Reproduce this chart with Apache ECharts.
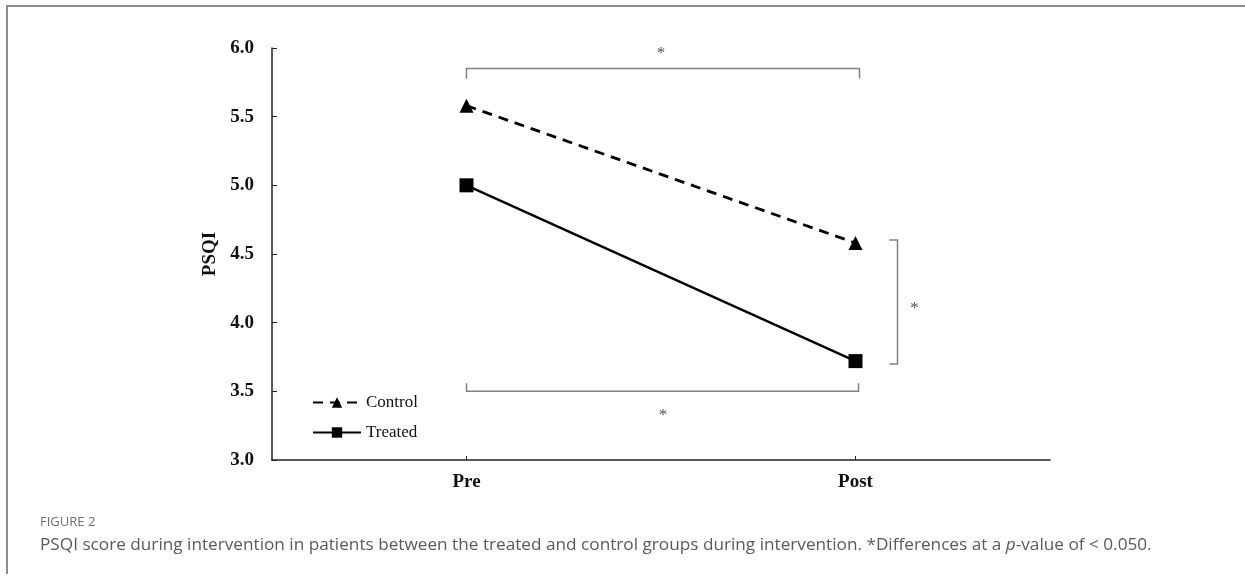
<!DOCTYPE html>
<html>
<head>
<meta charset="utf-8">
<style>
    html, body {margin: 0; padding: 0; background: #fff;}
    #main {width: 1245px; height: 576px;}
</style>
<script src="https://cdn.jsdelivr.net/npm/echarts@6/dist/echarts.min.js"></script>
</head>
<body>
<div id="main"></div>
<script>
// 数据
var categories = ['Pre', 'Post'];
var controlValues = [5.58, 4.58];
var treatedValues = [5.0, 3.72];
var yTicks = {min: 3.0, max: 6.0, interval: 0.5};
// 显著性标注: 上方(Pre-Post 对照组), 下方(Pre-Post 治疗组), 右侧(Post 组间)
var bracketTopY = 5.85;
var bracketBottomY = 3.5;
var bracketRight = [4.58, 3.72];

var serif = '"Liberation Serif", "Times New Roman", serif';
var sans = '"Open Sans", "Noto Sans", sans-serif';
var bracketColor = '#808080';

var myChart = echarts.init(document.querySelector('#main'));
myChart.setOption({
    animation: false,
    backgroundColor: '#fff',
    grid: {left: 272, right: 195, top: 48, bottom: 116},
    legend: {
        orient: 'vertical',
        left: 307,
        top: 389,
        itemWidth: 48,
        itemHeight: 13,
        itemGap: 13,
        textStyle: {fontFamily: serif, fontSize: 17, color: '#111'},
        data: ['Control', 'Treated']
    },
    xAxis: {
        type: 'category',
        data: categories,
        axisLine: {lineStyle: {color: '#222', width: 1.5}},
        axisTick: {show: true, alignWithLabel: true, inside: true, length: 4, lineStyle: {color: '#222'}},
        axisLabel: {fontFamily: serif, fontWeight: 'bold', fontSize: 19, color: '#111', margin: 13}
    },
    yAxis: {
        type: 'value',
        min: yTicks.min,
        max: yTicks.max,
        interval: yTicks.interval,
        name: 'PSQI',
        nameLocation: 'middle',
        nameGap: 50,
        nameTextStyle: {fontFamily: serif, fontWeight: 'bold', fontSize: 19, color: '#111'},
        axisLine: {show: true, lineStyle: {color: '#222', width: 1.5}},
        axisTick: {show: true, inside: true, length: 5, lineStyle: {color: '#222'}},
        splitLine: {show: false},
        axisLabel: {
            fontFamily: serif, fontWeight: 'bold', fontSize: 19, color: '#111', margin: 18,
            formatter: function (v) { return v.toFixed(1); }
        }
    },
    series: [{
        name: 'Control',
        type: 'line',
        data: controlValues,
        symbol: 'triangle',
        symbolSize: 14,
        itemStyle: {color: '#000'},
        lineStyle: {color: '#000', width: 2.8, type: [10, 7]}
    }, {
        name: 'Treated',
        type: 'line',
        data: treatedValues,
        symbol: 'rect',
        symbolSize: 14,
        itemStyle: {color: '#000'},
        lineStyle: {color: '#000', width: 2.3}
    }]
});

// 画显著性括号和说明文字
function drawAnnotations() {
    var pt = function (x, y) { return myChart.convertToPixel({gridIndex: 0}, [x, y]); };
    var g = [];
    var ls = {stroke: bracketColor, lineWidth: 1.5, fill: null};
    var star = function (x, y) {
        return {type: 'text', x: x, y: y, style: {text: '*', fontFamily: serif, fontSize: 17, fill: '#555', align: 'center', verticalAlign: 'middle'}};
    };

    var a = pt(0, bracketTopY), b = pt(1, bracketTopY);
    g.push({type: 'polyline', shape: {points: [[a[0], a[1] + 10], [a[0], a[1]], [b[0] + 4, b[1]], [b[0] + 4, b[1] + 10]]}, style: ls});
    g.push(star((a[0] + b[0]) / 2, a[1] - 15));

    var c = pt(0, bracketBottomY), d = pt(1, bracketBottomY);
    g.push({type: 'polyline', shape: {points: [[c[0], c[1] - 8], [c[0], c[1]], [d[0] + 3, d[1]], [d[0] + 3, d[1] - 8]]}, style: ls});
    g.push(star((c[0] + d[0]) / 2 + 2, c[1] + 24));

    var e = pt(1, bracketRight[0]), f = pt(1, bracketRight[1]);
    var rx = e[0] + 42;
    g.push({type: 'polyline', shape: {points: [[rx - 8, e[1] - 3], [rx, e[1] - 3], [rx, f[1] + 3], [rx - 8, f[1] + 3]]}, style: ls});
    g.push(star(rx + 17, (e[1] + f[1]) / 2 + 6));

    // 边框
    g.push({type: 'line', shape: {x1: 7, y1: 6, x2: 1245, y2: 6}, style: {stroke: '#8c8c8c', lineWidth: 2}});
    g.push({type: 'line', shape: {x1: 7, y1: 5, x2: 7, y2: 574}, style: {stroke: '#8c8c8c', lineWidth: 2}});

    // 图注
    g.push({type: 'text', x: 40, y: 522, style: {text: 'FIGURE 2', fontFamily: sans, fontSize: 13, fill: '#707070', verticalAlign: 'middle'}});
    g.push({type: 'text', x: 40, y: 545, style: {
        text: 'PSQI score during intervention in patients between the treated and control groups during intervention. *Differences at a {i|p}-value of < 0.050.',
        fontFamily: sans, fontSize: 17.2, fill: '#5a5a5a', verticalAlign: 'middle',
        rich: {i: {fontStyle: 'italic', fontFamily: sans, fontSize: 17.2, fill: '#5a5a5a'}}
    }});

    myChart.setOption({graphic: g});
}
drawAnnotations();
</script>
</body>
</html>
